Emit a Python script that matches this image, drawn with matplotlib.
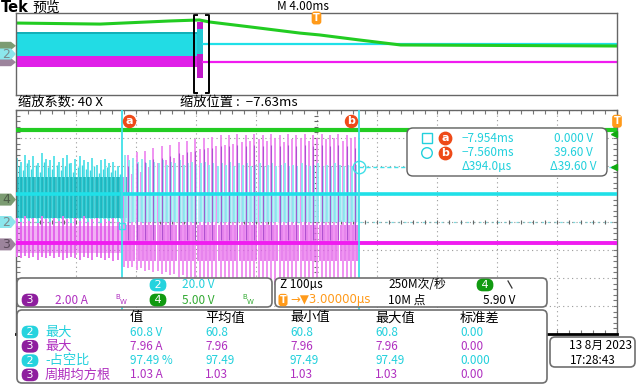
import numpy as np
import matplotlib.pyplot as plt
from matplotlib.patches import FancyBboxPatch, Polygon, Rectangle
from matplotlib.transforms import blended_transform_factory

plt.rcParams['font.family'] = ['Noto Sans CJK SC', 'DejaVu Sans']

# --- scope settings
ch2_scale = 20.0   # V/div
ch3_scale = 2.0    # A/div
ch4_scale = 5.0    # V/div
ch2_pos = 0.0      # div
ch3_pos = -0.8
ch4_pos = 0.8

zoom_center = -7.63   # ms
zoom_width = 1.0      # ms, 100us/div
cursor_a = -7.954
cursor_b = -7.560
cursor_a_level = 0.0
cursor_b_level = 39.6
trig_level = 5.90
period_us = 7.0

# idle levels
ch2_idle = 20.0
ch3_idle = 0.1
ch4_level = 12.5

# switching before cursor a
ch2_pre_hi = [46, 43, 48, 44, 47, 42, 49, 45, 44, 47, 43, 46, 48,
              42, 45, 47, 44, 43, 46, 41, 44, 45, 42, 43, 40]
ch2_pre_lo = -2.0
ch3_pre_hi = [1.9, 1.6, 2.0, 1.7, 1.9, 1.5, 2.0, 1.8, 1.6, 1.9, 1.7, 2.0, 1.8,
              1.5, 1.9, 1.7, 2.0, 1.6, 1.8, 1.9, 1.5, 1.8, 1.7, 1.9, 1.6]
ch3_pre_lo = [-0.9, -1.0, -0.8, -1.0, -0.9, -1.1, -0.9, -1.0, -0.8, -1.0, -0.9, -1.1, -1.0,
              -0.9, -1.0, -1.1, -0.9, -1.0, -1.1, -0.9, -1.0, -1.1, -1.0, -1.2, -1.1]

# switching between cursor a and b
ch2_ramp_hi = [48, 44, 46, 43, 45, 42, 44, 43,
               42, 44, 41, 43, 42, 44, 41, 42,
               43, 41, 42, 43, 41, 42, 40, 42,
               41, 43, 40, 42, 41, 42, 40, 41,
               42, 40, 41, 42, 40, 41, 42, 40,
               41, 40, 42, 41, 40, 41, 42, 40,
               41, 40, 42, 41, 40, 41, 40, 41]
ch2_ramp_lo = 0.0
ch3_ramp_hi = [4.8, 6.4, 5.0, 6.6, 5.2, 6.7, 5.5, 6.9,
               5.8, 7.0, 6.0, 7.1, 6.2, 7.3, 6.4, 7.4,
               6.6, 7.5, 6.8, 7.6, 6.9, 7.7, 7.0, 7.8,
               7.1, 7.8, 7.2, 7.9, 7.3, 7.8, 7.4, 7.9,
               7.5, 7.8, 7.4, 7.9, 7.6, 7.8, 7.3, 7.9,
               7.5, 7.8, 7.6, 7.9, 7.4, 7.8, 7.6, 7.9,
               7.5, 7.8, 7.6, 7.9, 7.4, 7.8, 7.6, 7.7]
ch3_ramp_lo = [-1.6, -1.7, -1.6, -1.8, -1.7, -1.9, -1.8, -2.0,
               -1.9, -2.1, -2.0, -2.2, -2.1, -2.3, -2.2, -2.4,
               -2.3, -2.5, -2.4, -2.6, -2.5, -2.7, -2.6, -2.8,
               -2.7, -2.8, -2.7, -2.9, -2.8, -2.9, -2.8, -3.0,
               -2.9, -3.0, -2.8, -3.0, -2.9, -3.0, -2.8, -3.0,
               -2.9, -3.0, -2.9, -3.0, -2.8, -3.0, -2.9, -3.0,
               -2.9, -3.0, -2.9, -3.0, -2.8, -3.0, -2.9, -3.0]

# overview record (4 ms/div)
ov_t = [-20, -14.4, -9.8, -7.8, -7.1, -4.4, -1.1, 0.2, 2.9, 5.6, 20]
ov_ch4 = [11.1, 10.6, 12.1, 12.6, 11.6, 9.2, 6.2, 5.3, 2.8, 0.4, -0.1]
ov_ch2_band = [-4.0, 43.0]
ov_ch3_band = [-1.0, 1.4]

# measurement table
meas_ch = ['2', '3', '2', '3']
meas_name = ['最大', '最大', '-占空比', '周期均方根']
meas_value = ['60.8 V', '7.96 A', '97.49 %', '1.03 A']
meas_mean = ['60.8', '7.96', '97.49', '1.03']
meas_min = ['60.8', '7.96', '97.49', '1.03']
meas_max = ['60.8', '7.96', '97.49', '1.03']
meas_std = ['0.00', '0.00', '0.000', '0.00']
meas_head = ['值', '平均值', '最小值', '最大值', '标准差']

CY = '#1fe0e8'
CY_T = '#22d0dc'
MG = '#f01cf0'
MG_T = '#b030c0'
GR = '#22cc22'
OR = '#ff9a1a'
RED = '#ee4a18'


def div(v, pos, scale):
    return pos + np.asarray(v, dtype=float) / scale


def fig_rect(l, t, r, b):
    return [l / 640, 1 - b / 384, (r - l) / 640, (b - t) / 384]


fig = plt.figure(figsize=(6.4, 3.84), dpi=100)
fig.patch.set_facecolor('white')

# ================= main (zoomed) graticule
ax = fig.add_axes(fig_rect(16, 110, 617, 334))
x0, x1 = zoom_center - zoom_width / 2, zoom_center + zoom_width / 2
ax.set_xlim(x0, x1)
ax.set_ylim(-4, 4)
ax.set_xticks(np.linspace(x0, x1, 11))
ax.set_xticks(np.linspace(x0, x1, 51), minor=True)
ax.set_yticks(np.arange(-4, 5))
ax.set_yticks(np.linspace(-4, 4, 41), minor=True)
ax.tick_params(which='both', direction='in', top=True, right=True,
               labelbottom=False, labelleft=False, length=3, width=0.8, color='#777')
ax.grid(which='major', ls=(0, (1, 3)), lw=0.8, color='#9a9a9a')
for s in ax.spines.values():
    s.set_color('#666')
    s.set_linewidth(1)
ax.spines['bottom'].set_color('black')
ax.spines['bottom'].set_linewidth(2)
# centre cross ticks
ax.plot([zoom_center] * 41, np.linspace(-4, 4, 41), ls='none', marker='_', ms=3.5, color='#666', mew=0.8)
ax.plot(np.linspace(x0, x1, 51), [0] * 51, ls='none', marker='|', ms=3.5, color='#666', mew=0.8)
ax.axhline(0, ls=(0, (2, 3)), lw=0.9, color='#80d8de', zorder=1)

t_pre = cursor_a - np.arange(len(ch2_pre_hi), 0, -1) * period_us / 1000
t_ramp = cursor_a + (np.arange(len(ch3_ramp_hi)) + 0.5) * period_us / 1000

# ch2 before a
ax.vlines(t_pre, div(ch2_pre_lo, ch2_pos, ch2_scale), div(ch2_pre_hi, ch2_pos, ch2_scale),
          color='#5fe3ea', lw=1.4, zorder=2)
ax.fill_between([t_pre[0] - 0.003, cursor_a + 0.012], div(3, ch2_pos, ch2_scale), div(32, ch2_pos, ch2_scale),
                color='#05a9b2', alpha=0.75, lw=0, zorder=2)
ax.vlines(t_pre + 0.0035, div(3, ch2_pos, ch2_scale), div(ch2_pre_hi, ch2_pos, ch2_scale) - 0.3,
          color='#3fd6de', lw=1.0, zorder=2)

# ch3 before a
ax.vlines(t_pre, div(ch3_pre_lo, ch3_pos, ch3_scale), div(ch3_pre_hi, ch3_pos, ch3_scale),
          color='#e777ee', lw=1.4, zorder=3)
ax.fill_between([t_pre[0] - 0.003, cursor_a], div(-0.6, ch3_pos, ch3_scale), div(1.3, ch3_pos, ch3_scale),
                color='#e050e8', alpha=0.45, lw=0, zorder=3)
# ch3 between a and b
ax.vlines(t_ramp, div(ch3_ramp_lo, ch3_pos, ch3_scale), div(ch3_ramp_hi, ch3_pos, ch3_scale),
          color='#ee8af0', lw=1.3, zorder=3)
ax.vlines(t_ramp + 0.0035, div(-1.2, ch3_pos, ch3_scale), div(1.4, ch3_pos, ch3_scale),
          color='#e060e8', lw=1.3, alpha=0.85, zorder=3)

# ch2 between a and b (drawn over ch3)
ax.vlines(t_ramp + 0.0018, div(ch2_ramp_lo, ch2_pos, ch2_scale), div(ch2_ramp_hi, ch2_pos, ch2_scale),
          color='#86eaef', lw=1.3, zorder=3.5)
ax.vlines(t_ramp + 0.0052, div(ch2_ramp_lo, ch2_pos, ch2_scale), div(ch2_idle, ch2_pos, ch2_scale),
          color='#a6f0f4', lw=1.1, zorder=3.5)
ax.vlines(t_ramp[1::2], div(0.3, ch3_pos, ch3_scale), div(np.array(ch3_ramp_hi[1::2]) - 0.8, ch3_pos, ch3_scale),
          color='#a040c8', lw=0.8, alpha=0.8, zorder=3.6)

# steady traces
ax.axhline(div(ch4_level, ch4_pos, ch4_scale), color=GR, lw=3, zorder=4)
ax.axhline(div(ch2_idle, ch2_pos, ch2_scale), color=CY, lw=2.6, zorder=4)
ax.axhline(div(ch3_idle, ch3_pos, ch3_scale), color=MG, lw=2.8, zorder=4)

# cursors
for c in (cursor_a, cursor_b):
    ax.axvline(c, color='#3fe0e8', lw=1.3, zorder=5)
ax.plot([cursor_b, x1], [div(cursor_b_level, ch2_pos, ch2_scale)] * 2, ls=(0, (3, 2)), color='#3fe0e8', lw=1, zorder=5)
ax.plot([cursor_b], [div(cursor_b_level, ch2_pos, ch2_scale)], marker='o', ms=9, mfc='none', mec='#3fe0e8', mew=1, zorder=6)
ax.plot([cursor_a], [div(cursor_a_level, ch2_pos, ch2_scale) - 0.15], marker='s', ms=5, mfc='none', mec='#3fe0e8', mew=1, zorder=6)

bt = blended_transform_factory(ax.transData, ax.transAxes)
for c, lab, dx in ((cursor_a, 'a', 0.012), (cursor_b, 'b', -0.012)):
    ax.scatter([c + dx], [0.95], s=75, color=RED, transform=bt, zorder=7, clip_on=False)
    ax.text(c + dx, 0.95, lab, transform=bt, color='white', fontsize=8, fontweight='bold',
            ha='center', va='center', zorder=8, family='DejaVu Sans')
by = blended_transform_factory(ax.transAxes, ax.transData)
for lv in (div(trig_level, ch4_pos, ch4_scale), div(11.7, ch4_pos, ch4_scale)):
    ax.plot([0.995], [lv], marker='<', ms=5, color='#11aa11', transform=by, clip_on=False, zorder=7)
ax.text(1.0, 0.95, 'T', transform=ax.transAxes, color='white', fontsize=7, fontweight='bold', ha='center',
        va='center', zorder=8, family='DejaVu Sans',
        bbox=dict(boxstyle='round,pad=0.15,rounding_size=0.3', fc=OR, ec='none'))

# ================= overview
ox = fig.add_axes(fig_rect(16, 13, 617, 95))
ox.set_xlim(-20, 20)
ox.set_ylim(-4, 4)
ox.set_xticks([])
ox.set_yticks([])
for s in ox.spines.values():
    s.set_color('#666')
    s.set_linewidth(1)
ox.fill_between([-20, cursor_a], div(ov_ch3_band[0], ch3_pos, ch3_scale), div(ov_ch3_band[1], ch3_pos, ch3_scale),
                color='#e020e8', lw=0)
ox.fill_between([-20, cursor_a], div(ov_ch2_band[0], ch2_pos, ch2_scale), div(ov_ch2_band[1], ch2_pos, ch2_scale),
                color='#22dce4', lw=0)
ox.fill_between([-20, cursor_a], div(ov_ch2_band[1] - 4, ch2_pos, ch2_scale), div(ov_ch2_band[1], ch2_pos, ch2_scale),
                color='#13b0b8', lw=0)
ox.fill_between([cursor_a, cursor_b], div(min(ch3_ramp_lo), ch3_pos, ch3_scale), div(max(ch3_ramp_hi), ch3_pos, ch3_scale),
                color='#c018c8', lw=0)
ox.fill_between([cursor_a, cursor_b], div(ch2_ramp_lo, ch2_pos, ch2_scale), div(max(ch2_ramp_hi), ch2_pos, ch2_scale),
                color='#22c8d4', lw=0)
ox.plot([cursor_b, 20], [div(ch2_idle, ch2_pos, ch2_scale)] * 2, color=CY, lw=1.6)
ox.plot([cursor_b, 20], [div(ch3_idle, ch3_pos, ch3_scale)] * 2, color=MG, lw=1.6)
ox.plot(ov_t, div(ov_ch4, ch4_pos, ch4_scale), color=GR, lw=2.2)
# zoom bracket
for xe, d in ((x0, 1), (x1, -1)):
    ox.plot([xe + d * 0.2, xe, xe, xe + d * 0.2], [3.8, 3.8, -3.8, -3.8], color='black', lw=1.4)
ox.text(0, 1.0, 'T', transform=blended_transform_factory(ox.transData, ox.transAxes), color='white',
        fontsize=7, fontweight='bold', ha='center', va='top', family='DejaVu Sans',
        bbox=dict(boxstyle='round,pad=0.15,rounding_size=0.3', fc=OR, ec='none'))

# ================= overlay: labels, boxes, readouts
ov = fig.add_axes([0, 0, 1, 1], zorder=10)
ov.set_xlim(0, 640)
ov.set_ylim(384, 0)
ov.axis('off')
ov.patch.set_alpha(0)


def rbox(l, t, r, b, rs=5, ec='#707070', lw=1.2):
    ov.add_patch(FancyBboxPatch((l, t), r - l, b - t, boxstyle=f'round,pad=0,rounding_size={rs}',
                                fc='white', ec=ec, lw=lw, zorder=1))


def pill(x, y, s, fc, fs=8):
    ov.text(x, y, s, color='white', fontsize=fs, ha='center', va='center', zorder=3, family='DejaVu Sans',
            bbox=dict(boxstyle='round,pad=0.12,rounding_size=0.55', fc=fc, ec='none'))


def marker(y, s, fc, tc, h=6, fs=9):
    ov.add_patch(Polygon([(0, y - h), (11, y - h), (16, y), (11, y + h), (0, y + h)], closed=True,
                         fc=fc, ec='none', zorder=2))
    if s:
        ov.text(6, y, s, color=tc, fontsize=fs, ha='center', va='center', zorder=3, family='DejaVu Sans')


ov.text(1, 8, 'Tek', fontsize=10.5, fontweight='bold', va='center', family='DejaVu Sans')
ov.text(32, 8, '预览', fontsize=10, va='center')
ov.text(277, 6, 'M 4.00ms', fontsize=8.5, va='center')
ov.text(18, 102, '缩放系数: 40 X', fontsize=9.5, va='center')
ov.text(180, 102, '缩放位置 :  −7.63ms', fontsize=9.5, va='center')

# channel markers, main and overview
main_top, div_px = 110, 28
marker(main_top + (4 - ch4_pos) * div_px, '4', '#7c9c72', '#4d5d48')
marker(main_top + (4 - ch2_pos) * div_px, '2', '#8ce6ec', '#7a8a8c')
marker(main_top + (4 - ch3_pos) * div_px, '3', '#9c849c', '#5a4a5a')
ov_top, ov_div = 13, 10.25
marker(ov_top + (4 - ch4_pos) * ov_div, '', '#7c9c72', '#4d5d48', h=4)
marker(ov_top + (4 - ch3_pos) * ov_div, '', '#9c849c', '#5a4a5a', h=4)
marker(ov_top + (4 - ch2_pos) * ov_div, '2', '#8ce6ec', '#7a8a8c', h=5.5)

# cursor readout
rbox(407, 128, 607, 176, rs=6, ec='#606060', lw=1)
ov.add_patch(Rectangle((422, 133), 10, 10, fc='none', ec=CY_T, lw=1, zorder=3))
ov.add_patch(plt.Circle((427, 153), 5.3, fc='none', ec=CY_T, lw=1, zorder=3))
for yy, lab in ((138, 'a'), (153, 'b')):
    ov.scatter([445], [yy], s=80, color=RED, zorder=3)
    ov.text(445, yy, lab, color='white', fontsize=8, fontweight='bold', ha='center', va='center',
            zorder=4, family='DejaVu Sans')
ov.text(462, 138, f'−{abs(cursor_a):.3f}ms', color=CY_T, fontsize=8.5, va='center', zorder=4)
ov.text(462, 153, f'−{abs(cursor_b):.3f}ms', color=CY_T, fontsize=8.5, va='center', zorder=4)
ov.text(462, 167, f'Δ{(cursor_b - cursor_a) * 1000:.1f}µs', color=CY_T, fontsize=8.5, va='center', zorder=4)
ov.text(593, 138, f'{cursor_a_level:.3f} V', color=CY_T, fontsize=8.5, va='center', ha='right', zorder=4)
ov.text(593, 153, f'{cursor_b_level:.2f} V', color=CY_T, fontsize=8.5, va='center', ha='right', zorder=4)
ov.text(597, 167, f'Δ{cursor_b_level - cursor_a_level:.2f} V', color=CY_T, fontsize=8.5, va='center', ha='right', zorder=4)

# vertical settings box
rbox(17, 278, 272, 307)
pill(158, 285, ' 2 ', '#25d3de')
ov.text(182, 285, '20.0 V', color=CY_T, fontsize=8.5, va='center', zorder=3)
pill(30, 300, ' 3 ', '#8e1e9e')
ov.text(55, 300, '2.00 A', color=MG_T, fontsize=8.5, va='center', zorder=3)
ov.text(115, 297, 'B', color=MG_T, fontsize=5, va='center', zorder=3, family='DejaVu Sans')
ov.text(120, 302.5, 'W', color=MG_T, fontsize=5, va='center', zorder=3, family='DejaVu Sans')
pill(158, 300, ' 4 ', '#119a11')
ov.text(182, 300, '5.00 V', color='#33aa33', fontsize=8.5, va='center', zorder=3)
ov.text(242, 297, 'B', color='#33aa33', fontsize=5, va='center', zorder=3, family='DejaVu Sans')
ov.text(247, 302.5, 'W', color='#33aa33', fontsize=5, va='center', zorder=3, family='DejaVu Sans')

# timebase / trigger box
rbox(275, 278, 547, 307)
ov.text(280, 285, 'Z 100µs', fontsize=8.5, va='center', zorder=3)
ov.text(283, 300, 'T', color='white', fontsize=7, fontweight='bold', ha='center', va='center', zorder=3,
        family='DejaVu Sans', bbox=dict(boxstyle='round,pad=0.12,rounding_size=0.3', fc=OR, ec='none'))
ov.text(290, 300, '→▼3.00000µs', color=OR, fontsize=8.5, va='center', zorder=3, family=['DejaVu Sans'])
ov.text(388, 285, '250M次/秒', fontsize=8.5, va='center', zorder=3)
ov.text(388, 300, '10M 点', fontsize=8.5, va='center', zorder=3)
pill(485, 285, ' 4 ', '#119a11')
ov.plot([508, 512], [281, 288], color='#333', lw=0.9, zorder=3)
ov.text(483, 300, f'{trig_level:.2f} V', fontsize=8.5, va='center', zorder=3)

# measurement box
rbox(17, 310, 547, 383)
cols = [130, 205, 290, 375, 460]
for cx, h in zip(cols, meas_head):
    ov.text(cx, 318, h, fontsize=9.5, va='center', zorder=3)
for i in range(len(meas_ch)):
    yy = 332 + i * 14.3
    tc = CY_T if meas_ch[i] == '2' else MG_T
    pc = '#25d3de' if meas_ch[i] == '2' else '#8e1e9e'
    pill(30, yy, ' ' + meas_ch[i] + ' ', pc)
    ov.text(45, yy, meas_name[i], color=tc, fontsize=9.5, va='center', zorder=3)
    for cx, v in zip(cols, (meas_value[i], meas_mean[i], meas_min[i], meas_max[i], meas_std[i])):
        ov.text(cx, yy, v, color=tc, fontsize=8.5, va='center', zorder=3)

# date box
rbox(550, 337, 635, 367)
ov.text(632, 345, '13 8月 2023', fontsize=8.5, va='center', ha='right', zorder=3)
ov.text(570, 360, '17:28:43', fontsize=8.5, va='center', zorder=3)

fig.savefig('out.png', dpi=100)
